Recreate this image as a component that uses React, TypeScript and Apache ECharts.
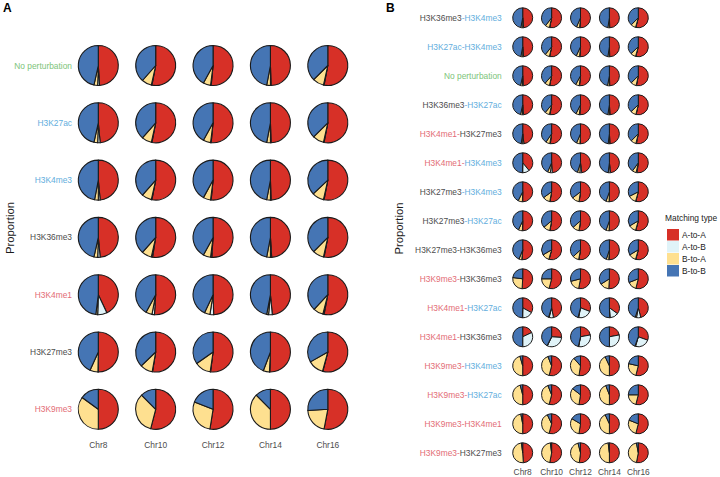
import React, { useEffect, useRef } from "react";
import * as echarts from "echarts";

// Chromosome columns shared by both panels
const chromosomes = ["Chr8", "Chr10", "Chr12", "Chr14", "Chr16"];

// Compartment matching categories, drawn clockwise from 12 o'clock
const matchingTypes = ["A-to-A", "A-to-B", "B-to-A", "B-to-B"];
const typeColors = ["#D73027", "#E0F3F8", "#FEE090", "#4575B4"];

// Colour group of each histone mark in the row labels
const markGroup: Record<string, string> = {
  "No perturbation": "g",
  H3K27ac: "b",
  H3K4me3: "b",
  H3K36me3: "k",
  H3K27me3: "k",
  H3K4me1: "r",
  H3K9me3: "r",
};

// Panel A rows: single-mark perturbations
const rowsA = ["No perturbation", "H3K27ac", "H3K4me3", "H3K36me3", "H3K4me1", "H3K27me3", "H3K9me3"];

// Each entry: [A-to-A, A-to-B, B-to-A, B-to-B] (%) for Chr8, Chr10, Chr12, Chr14, Chr16
const aNoPerturbation = [[49, 1.5, 3, 46.5], [53, 0.5, 8, 38.5], [51.5, 0.5, 6, 42], [49.5, 0.5, 3, 47], [53, 0.5, 9, 37.5]];
const aH3K27ac = [[48.5, 2, 3, 46.5], [53, 0.5, 8, 38.5], [51.5, 0.5, 6, 42], [49.5, 0.5, 3, 47], [53, 0.5, 9, 37.5]];
const aH3K4me3 = [[48.5, 1.5, 3, 47], [53, 0.5, 8, 38.5], [51.5, 0.5, 6, 42], [49.5, 0.5, 3, 47], [53, 0.5, 9.5, 37]];
const aH3K36me3 = [[48.5, 2, 3, 46.5], [52.5, 1, 8, 38.5], [51, 1, 6, 42], [49, 1, 3, 47], [53, 0.5, 9, 37.5]];
const aH3K4me1 = [[43, 7.5, 1.5, 48], [51, 2, 5, 42], [49.5, 3, 4.5, 43], [48.5, 3, 1.5, 47], [53, 1, 8, 38]];
const aH3K27me3 = [[50, 0.3, 6.5, 43.2], [52.5, 0.3, 10, 37.2], [52, 0.3, 13, 34.7], [50.5, 0.3, 5, 44.2], [54, 0.3, 12.5, 33.2]];
const aH3K9me3 = [[50, 0, 35, 15], [54, 0, 33.5, 12.5], [52.5, 0, 28.5, 19], [50, 0, 37.5, 12.5], [53, 0, 21, 26]];

const valuesA = [aNoPerturbation, aH3K27ac, aH3K4me3, aH3K36me3, aH3K4me1, aH3K27me3, aH3K9me3];

// Panel B rows: paired-mark perturbations
const rowsB = [
  "H3K36me3-H3K4me3",
  "H3K27ac-H3K4me3",
  "No perturbation",
  "H3K36me3-H3K27ac",
  "H3K4me1-H3K27me3",
  "H3K4me1-H3K4me3",
  "H3K27me3-H3K4me3",
  "H3K27me3-H3K27ac",
  "H3K27me3-H3K36me3",
  "H3K9me3-H3K36me3",
  "H3K4me1-H3K27ac",
  "H3K4me1-H3K36me3",
  "H3K9me3-H3K4me3",
  "H3K9me3-H3K27ac",
  "H3K9me3-H3K4me1",
  "H3K9me3-H3K27me3",
];

const bH3K36me3H3K4me3 = [[48.5, 1.5, 3, 47], [53, 0.5, 7, 39.5], [51, 0.5, 5, 43.5], [49.5, 0.5, 2.5, 47.5], [54, 0.5, 8, 37.5]];
const bH3K27acH3K4me3 = [[48.5, 1.5, 3, 47], [53, 0.5, 7.5, 39], [51, 0.5, 5.5, 43], [49.5, 0.5, 2.5, 47.5], [54, 0.5, 8.5, 37]];
const bNoPerturbation = aNoPerturbation;
const bH3K36me3H3K27ac = [[48.5, 2, 3, 46.5], [52.5, 1, 7.5, 39], [51, 1, 5.5, 42.5], [49, 1, 2.5, 47.5], [53.5, 0.5, 9, 37]];
const bH3K4me1H3K27me3 = [[48, 2, 2.5, 47.5], [52, 1, 6.5, 40.5], [50, 1, 5.5, 43.5], [49, 1, 2, 48], [53, 1, 8.5, 37.5]];
const bH3K4me1H3K4me3 = [[39, 11, 0.5, 49.5], [49, 3, 4.5, 43.5], [48, 3, 4, 45], [48, 3, 1, 48], [52, 1.5, 6.5, 40]];
const bH3K27me3H3K4me3 = [[50, 0.5, 7, 42.5], [52.5, 0.5, 12, 35], [52, 0.5, 12, 35.5], [50, 0.5, 5, 44.5], [54, 0.5, 13, 32.5]];
const bH3K27me3H3K27ac = [[50, 0.5, 6.5, 43], [52.5, 0.5, 11, 36], [52, 0.5, 11, 36.5], [50, 0.5, 5, 44.5], [54, 0.5, 12, 33.5]];
const bH3K27me3H3K36me3 = [[51, 0.5, 4.5, 44], [54, 0.5, 12, 33.5], [52.5, 0.5, 10, 37], [50.5, 0.5, 4, 45], [54, 0.5, 12, 33.5]];
const bH3K9me3H3K36me3 = [[51, 0, 26, 23], [54, 0, 21, 25], [53, 0, 18, 29], [51, 0, 15, 34], [54, 0, 15, 31]];
const bH3K4me1H3K27ac = [[33, 17, 0.5, 49.5], [47, 7, 1, 45], [31, 22, 1, 46], [35, 14, 0.5, 50.5], [46, 7, 2, 45]];
const bH3K4me1H3K36me3 = [[18, 32, 0, 50], [26, 31, 0.5, 42.5], [22, 31, 0.5, 46.5], [22, 28, 0, 50], [30.5, 24, 1, 44.5]];
const bH3K9me3H3K4me3 = [[50, 0, 45.5, 4.5], [54, 0, 40, 6], [52.5, 0, 36, 11.5], [50, 0, 43, 7], [54, 0, 24.5, 21.5]];
const bH3K9me3H3K27ac = [[50, 0, 46, 4], [54, 0, 40, 6], [52.5, 0, 33, 14.5], [50, 0, 44, 6], [54, 0, 21, 25]];
const bH3K9me3H3K4me1 = [[50, 0, 47, 3], [54, 0, 39, 7], [52.5, 0, 31, 16.5], [50, 0, 43, 7], [54, 0, 27, 19]];
const bH3K9me3H3K27me3 = [[49, 0, 49, 2], [53, 0, 45, 2], [52, 0, 44, 4], [50, 0, 48, 2], [53, 0, 44, 3]];

const valuesB = [
  bH3K36me3H3K4me3, bH3K27acH3K4me3, bNoPerturbation, bH3K36me3H3K27ac,
  bH3K4me1H3K27me3, bH3K4me1H3K4me3, bH3K27me3H3K4me3, bH3K27me3H3K27ac,
  bH3K27me3H3K36me3, bH3K9me3H3K36me3, bH3K4me1H3K27ac, bH3K4me1H3K36me3,
  bH3K9me3H3K4me3, bH3K9me3H3K27ac, bH3K9me3H3K4me1, bH3K9me3H3K27me3,
];

const FONT = "Liberation Sans, Arial, sans-serif";
const LABEL_SIZE = 8.4;

const richStyles = {
  g: { color: "#7DC47A", fontSize: LABEL_SIZE, fontFamily: FONT },
  b: { color: "#62AEDD", fontSize: LABEL_SIZE, fontFamily: FONT },
  r: { color: "#E36C75", fontSize: LABEL_SIZE, fontFamily: FONT },
  k: { color: "#4D4D4D", fontSize: LABEL_SIZE, fontFamily: FONT },
};

function richLabel(name: string): string {
  if (markGroup[name]) return `{${markGroup[name]}|${name}}`;
  const [first, second] = name.split("-");
  const k1 = markGroup[first] || "k";
  const k2 = markGroup[second] || "k";
  const hy = k1 !== "k" ? k1 : k2;
  return `{${k1}|${first}}{${hy}|-}{${k2}|${second}}`;
}

function buildData(values: number[][][]) {
  const out: number[][] = [];
  values.forEach((row, r) => row.forEach((v, c) => out.push([c, r, ...v])));
  return out;
}

function pieRenderer(radius: number, lineWidth: number) {
  return (_params: any, api: any) => {
    const center = api.coord([api.value(0), api.value(1)]);
    const vals = [api.value(2), api.value(3), api.value(4), api.value(5)] as number[];
    const total = vals.reduce((s, v) => s + v, 0);
    let angle = -Math.PI / 2;
    const children: any[] = [];
    vals.forEach((v, i) => {
      if (v <= 0) return;
      const start = angle;
      const end = angle + (v / total) * Math.PI * 2;
      angle = end;
      children.push({
        type: "sector",
        shape: { cx: center[0], cy: center[1], r0: 0, r: radius, startAngle: start, endAngle: end, clockwise: true },
        style: { fill: typeColors[i], stroke: "#1a1a1a", lineWidth, lineJoin: "round" },
      });
    });
    return { type: "group", children };
  };
}

function xAxisFor(gridIndex: number, margin: number) {
  return {
    type: "category",
    gridIndex,
    data: chromosomes,
    boundaryGap: false,
    axisLine: { show: false },
    axisTick: { show: false },
    splitLine: { show: false },
    axisLabel: { interval: 0, margin, color: "#4D4D4D", fontSize: LABEL_SIZE, fontFamily: FONT, lineHeight: 10 },
  };
}

function yAxisFor(gridIndex: number, rows: string[], margin: number) {
  return {
    type: "category",
    gridIndex,
    data: rows,
    inverse: true,
    boundaryGap: false,
    axisLine: { show: false },
    axisTick: { show: false },
    splitLine: { show: false },
    axisLabel: { interval: 0, margin, formatter: (v: string) => richLabel(v), rich: richStyles },
  };
}

export default function App() {
  const ref = useRef<HTMLDivElement>(null);

  useEffect(() => {
    if (!ref.current) return;
    const chart = echarts.init(ref.current, undefined, { renderer: "svg" });

    const legendItems: any[] = [
      {
        type: "text",
        left: 665,
        top: 214,
        style: { text: "Matching type", fontSize: LABEL_SIZE, fontFamily: FONT, fill: "#222" },
      },
    ];
    matchingTypes.forEach((t, i) => {
      legendItems.push({
        type: "rect",
        shape: { x: 667, y: 229 + i * 12, width: 12, height: 11.5 },
        style: { fill: typeColors[i] },
      });
      legendItems.push({
        type: "text",
        x: 682,
        y: 234.8 + i * 12,
        style: { text: t, fontSize: LABEL_SIZE, fontFamily: FONT, fill: "#222", verticalAlign: "middle" },
      });
    });

    chart.setOption({
      animation: false,
      backgroundColor: "#ffffff",
      grid: [
        { left: 98.3, top: 65.5, width: 229.5, height: 343.8 },
        { left: 522.7, top: 17.8, width: 115.6, height: 435 },
      ],
      xAxis: [xAxisFor(0, 30.5), xAxisFor(1, 14)],
      yAxis: [yAxisFor(0, rowsA, 26.3), yAxisFor(1, rowsB, 21)],
      series: [
        {
          type: "custom",
          xAxisIndex: 0,
          yAxisIndex: 0,
          clip: false,
          encode: { x: 0, y: 1 },
          renderItem: pieRenderer(20, 1.1),
          data: buildData(valuesA),
        },
        {
          type: "custom",
          xAxisIndex: 1,
          yAxisIndex: 1,
          clip: false,
          encode: { x: 0, y: 1 },
          renderItem: pieRenderer(10, 1),
          data: buildData(valuesB),
        },
      ],
      graphic: [
        {
          type: "text",
          left: 3,
          top: 2,
          style: { text: "A", fontSize: 12, fontWeight: "bold", fontFamily: FONT, fill: "#000" },
        },
        {
          type: "text",
          left: 386,
          top: 2,
          style: { text: "B", fontSize: 12, fontWeight: "bold", fontFamily: FONT, fill: "#000" },
        },
        {
          type: "text",
          x: 10,
          y: 228,
          rotation: Math.PI / 2,
          style: { text: "Proportion", fontSize: 11.3, fontFamily: FONT, fill: "#1a1a1a", align: "center", verticalAlign: "middle" },
        },
        {
          type: "text",
          x: 398.5,
          y: 228.5,
          rotation: Math.PI / 2,
          style: { text: "Proportion", fontSize: 11.3, fontFamily: FONT, fill: "#1a1a1a", align: "center", verticalAlign: "middle" },
        },
        ...legendItems,
      ],
    });

    return () => chart.dispose();
  }, []);

  return (
    <div
      ref={ref}
      style={{ position: "fixed", left: 0, top: 0, width: 720, height: 477, background: "#fff" }}
    />
  );
}
